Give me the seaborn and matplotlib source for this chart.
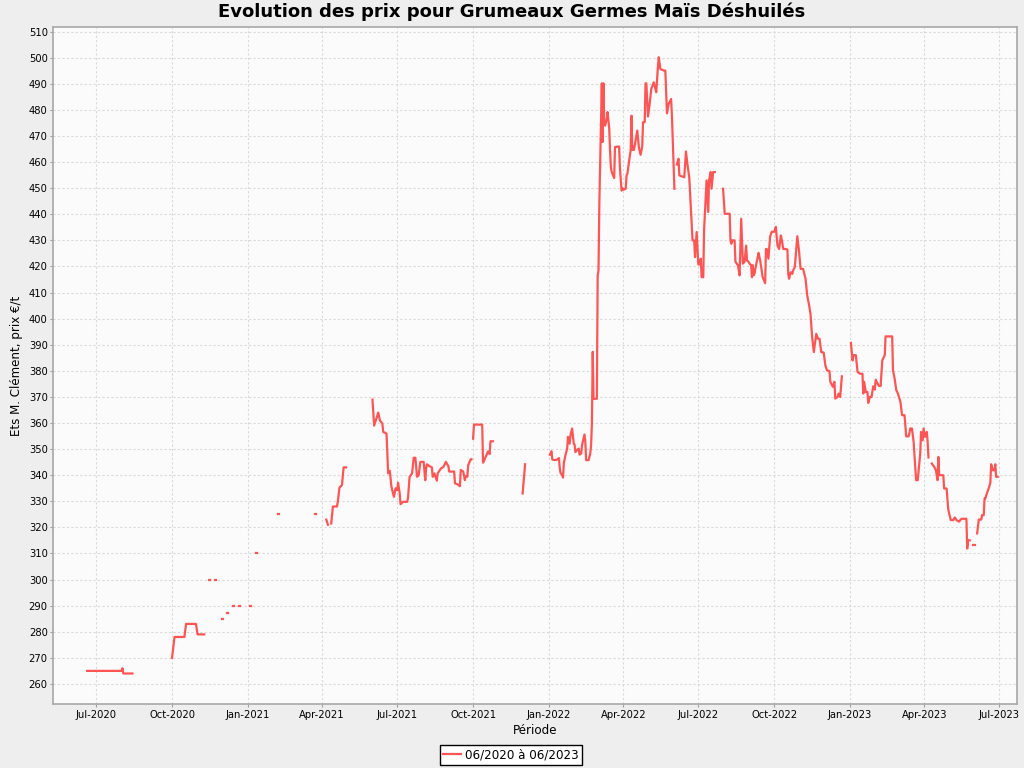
import pandas as pd
import seaborn as sns
import matplotlib.pyplot as plt
import matplotlib.dates as mdates
from matplotlib.lines import Line2D

# prix relevés ; None = rupture de cotation (trou dans la courbe)
dates = [
    '2020-06-20', '2020-08-01', '2020-08-02', '2020-08-03', '2020-08-14', None,
    '2020-10-01', '2020-10-04', '2020-10-16', '2020-10-18', '2020-10-30', '2020-11-01', '2020-11-09', None,
    '2020-11-15', '2020-11-16', None, '2020-11-22', '2020-11-23', None,
    '2020-12-01', '2020-12-02', None, '2020-12-07', '2020-12-08', None,
    '2020-12-14', '2020-12-15', None, '2020-12-21', '2020-12-22', None,
    '2021-01-04', '2021-01-05', None, '2021-01-11', '2021-01-12', None,
    '2021-02-06', '2021-02-08', None, '2021-03-23', '2021-03-24', None,
    '2021-04-06', '2021-04-08', None,
    '2021-04-12', '2021-04-14', '2021-04-19', '2021-04-20', '2021-04-22', '2021-04-25', '2021-04-27', '2021-04-30', None,
    '2021-06-01', '2021-06-03', '2021-06-08', '2021-06-10', '2021-06-13', '2021-06-14', '2021-06-18', '2021-06-20',
    '2021-06-22', '2021-06-24', '2021-06-27', '2021-06-29', '2021-07-01', '2021-07-02', '2021-07-04', '2021-07-05',
    '2021-07-08', '2021-07-13', '2021-07-14', '2021-07-16', '2021-07-19', '2021-07-21', '2021-07-23', '2021-07-25',
    '2021-07-27', '2021-07-29', '2021-08-02', '2021-08-04', '2021-08-05', '2021-08-06', '2021-08-09', '2021-08-12',
    '2021-08-13', '2021-08-15', '2021-08-18', '2021-08-19', '2021-08-23', '2021-08-26', '2021-08-29', '2021-09-01',
    '2021-09-02', '2021-09-08', '2021-09-09', '2021-09-12', '2021-09-15', '2021-09-16', '2021-09-19', '2021-09-21',
    '2021-09-22', '2021-09-24', '2021-09-25', '2021-09-28', '2021-09-29', None,
    '2021-10-01', '2021-10-02', '2021-10-12', '2021-10-13', '2021-10-15', '2021-10-19', '2021-10-21', '2021-10-22',
    '2021-10-25', None,
    '2021-11-30', '2021-12-03', None,
    '2022-01-02', '2022-01-04', '2022-01-05', '2022-01-08', '2022-01-11', '2022-01-13', '2022-01-14', '2022-01-15',
    '2022-01-17', '2022-01-18', '2022-01-19', '2022-01-21', '2022-01-23', '2022-01-24', '2022-01-26', '2022-01-27',
    '2022-01-29', '2022-01-31', '2022-02-01', '2022-02-02', '2022-02-04', '2022-02-06', '2022-02-07', '2022-02-09',
    '2022-02-10', '2022-02-13', '2022-02-14', '2022-02-15', '2022-02-18', '2022-02-20', '2022-02-21', '2022-02-22',
    '2022-02-23', '2022-02-24', '2022-02-28', '2022-03-01', '2022-03-02', '2022-03-03', '2022-03-06', '2022-03-07',
    '2022-03-08', '2022-03-09', '2022-03-10', '2022-03-12', '2022-03-13', '2022-03-15', '2022-03-16', '2022-03-17',
    '2022-03-18', '2022-03-21', '2022-03-22', '2022-03-27', '2022-03-28', '2022-03-30', '2022-03-31', '2022-04-01',
    '2022-04-04', '2022-04-05', '2022-04-06', '2022-04-09', '2022-04-10', '2022-04-11', '2022-04-12', '2022-04-14',
    '2022-04-18', '2022-04-20', '2022-04-22', '2022-04-24', '2022-04-25', '2022-04-27', '2022-04-28', '2022-04-29',
    '2022-05-01', '2022-05-03', '2022-05-05', '2022-05-08', '2022-05-10', '2022-05-11', '2022-05-13', '2022-05-14',
    '2022-05-16', '2022-05-20', '2022-05-22', '2022-05-24', '2022-05-26', '2022-05-29', '2022-05-30', '2022-06-02', None,
    '2022-06-05', '2022-06-07', '2022-06-08', '2022-06-14', '2022-06-16', '2022-06-18', '2022-06-20', '2022-06-24',
    '2022-06-26', '2022-06-27', '2022-06-29', '2022-07-01', '2022-07-03', '2022-07-04', '2022-07-05', '2022-07-07',
    '2022-07-08', '2022-07-11', '2022-07-13', '2022-07-14', '2022-07-16', '2022-07-17', '2022-07-19', '2022-07-21', None,
    '2022-07-31', '2022-08-02', '2022-08-08', '2022-08-09', '2022-08-10', '2022-08-11', '2022-08-14', '2022-08-15',
    '2022-08-18', '2022-08-20', '2022-08-22', '2022-08-24', '2022-08-26', '2022-08-28', '2022-08-29', '2022-08-31',
    '2022-09-01', '2022-09-03', '2022-09-04', '2022-09-05', '2022-09-06', '2022-09-07', '2022-09-09', '2022-09-11',
    '2022-09-12', '2022-09-14', '2022-09-17', '2022-09-20', '2022-09-21', '2022-09-22', '2022-09-24', '2022-09-26',
    '2022-09-28', '2022-10-01', '2022-10-03', '2022-10-04', '2022-10-05', '2022-10-07', '2022-10-09', '2022-10-10',
    '2022-10-12', '2022-10-15', '2022-10-17', '2022-10-18', '2022-10-19', '2022-10-21', '2022-10-23', '2022-10-24',
    '2022-10-26', '2022-10-29', '2022-10-31', '2022-11-02', '2022-11-05', '2022-11-08', '2022-11-10', '2022-11-12',
    '2022-11-14', '2022-11-16', '2022-11-18', '2022-11-21', '2022-11-23', '2022-11-25', '2022-11-27', '2022-11-30',
    '2022-12-02', '2022-12-04', '2022-12-07', '2022-12-08', '2022-12-11', '2022-12-13', '2022-12-14', '2022-12-17',
    '2022-12-18', '2022-12-20', '2022-12-22', None,
    '2023-01-02', '2023-01-04', '2023-01-05', '2023-01-08', '2023-01-10', '2023-01-13', '2023-01-16', '2023-01-17',
    '2023-01-18', '2023-01-20', '2023-01-22', '2023-01-23', '2023-01-25', '2023-01-27', '2023-01-29', '2023-01-31',
    '2023-02-01', '2023-02-03', '2023-02-05', '2023-02-07', '2023-02-09', '2023-02-12', '2023-02-13', '2023-02-21',
    '2023-02-22', '2023-02-24', '2023-02-26', '2023-02-28', '2023-03-03', '2023-03-05', '2023-03-08', '2023-03-10',
    '2023-03-13', '2023-03-15', '2023-03-17', '2023-03-19', '2023-03-22', '2023-03-24', '2023-03-27', '2023-03-28',
    '2023-03-30', '2023-03-31', '2023-04-02', '2023-04-04', '2023-04-05', '2023-04-06', None,
    '2023-04-10', '2023-04-13', '2023-04-15', '2023-04-17', '2023-04-18', '2023-04-19', '2023-04-24', '2023-04-25',
    '2023-04-28', '2023-04-30', '2023-05-03', '2023-05-06', '2023-05-08', '2023-05-10', '2023-05-13', '2023-05-16',
    '2023-05-22', '2023-05-23', '2023-05-24', '2023-05-26', None,
    '2023-05-30', '2023-06-01', None,
    '2023-06-04', '2023-06-06', '2023-06-09', '2023-06-10', '2023-06-12', '2023-06-13', '2023-06-14', '2023-06-16',
    '2023-06-18', '2023-06-20', '2023-06-21', '2023-06-23', '2023-06-25', '2023-06-26', '2023-06-27', '2023-06-29',
]

prices = [
    265, 265, 266, 264, 264, None,
    270, 278, 278, 283, 283, 279, 279, None,
    300, 300, None, 300, 300, None,
    285, 285, None, 287, 287, None,
    290, 290, None, 290, 290, None,
    290, 290, None, 310, 310, None,
    325, 325, None, 325, 325, None,
    323, 321, None,
    321.5, 328, 328, 330, 335.3, 336.2, 343, 343, None,
    369, 359, 364, 361, 359.8, 356.6, 356, 340.7,
    341.7, 335.5, 331.7, 335, 334.3, 337.1, 333.1, 328.9,
    329.8, 329.8, 331.1, 339.4, 340.7, 346.7, 346.7, 339.4,
    340, 345.1, 345.1, 338.1, 342.6, 344.2, 343.5, 343,
    339.4, 340.7, 337.9, 340.7, 342.6, 343.2, 345.1, 343.5,
    341.4, 341.4, 336.9, 336.5, 335.8, 342, 341.4, 338.1,
    339.6, 339.4, 343.8, 346.1, 346.1, None,
    354, 359.4, 359.4, 344.8, 346.1, 349.1, 348.1, 353,
    353, None,
    333, 344.2, None,
    347.9, 349.2, 346, 345.8, 346, 346.6, 342.8, 340.9,
    340, 339.1, 344.8, 347.7, 350.2, 354.7, 352.1, 355.3,
    357.9, 352.1, 351.7, 348.9, 349.6, 350.2, 347.9, 348.3,
    351.5, 355.6, 353, 345.8, 345.8, 348.3, 351.5, 359.8,
    387.3, 369.3, 369.3, 416.6, 418.5, 444, 490.2, 467.7,
    490.2, 474.1, 474, 476.6, 479.2, 472.8, 464.5, 458.1,
    456.2, 453.9, 465.8, 466, 457.5, 449.1, 450, 449.4,
    449.8, 454.9, 455.5, 462.5, 464.5, 477.8, 464.7, 464.7,
    472.1, 465.5, 462.8, 466, 475.3, 475.3, 490.2, 490.2,
    477.5, 482.3, 488.1, 490.6, 488.1, 486.8, 496.4, 500.2,
    495.7, 495.1, 495.1, 478.7, 482.3, 484.2, 477.8, 449.8, None,
    459.1, 461.3, 454.9, 454.2, 464.1, 458.7, 454.2, 430,
    430, 423.6, 433.2, 420.8, 420.8, 423, 415.9, 415.9,
    434.1, 453, 440.9, 453, 456.2, 449.8, 456.2, 456.2, None,
    449.8, 440.2, 440.2, 430, 428.7, 430, 430, 421.8,
    420.5, 416.6, 438.3, 421.1, 421.8, 428, 422.3, 421.8,
    421.1, 420.5, 415.9, 420.5, 416.6, 417.2, 420.5, 423.6,
    425.2, 422.3, 415.9, 413.6, 426.7, 426.7, 423, 431.4,
    433.3, 433.3, 435.2, 431.4, 428, 426.7, 431.9, 430.6,
    426.7, 426.7, 426.5, 417.2, 415.3, 417.8, 417.2, 418.5,
    419.8, 431.6, 426.2, 419.1, 419.1, 415.3, 408.9, 405.7,
    401.8, 392.9, 387.2, 394.2, 392.3, 392.3, 387.2, 387,
    382.1, 380.2, 379.9, 375.8, 373.9, 375.8, 369.4, 370,
    371.3, 370, 377.9, None,
    390.7, 384, 386, 386, 379.6, 378.9, 378.9, 371.3,
    375.8, 371.9, 371.9, 367.7, 370, 370, 374.1, 372.8,
    376.6, 375.3, 374.2, 374.2, 384, 386, 393.2, 393.2,
    380.2, 377, 372.6, 371.3, 368.1, 363, 363, 354.9,
    354.9, 357.9, 357.9, 352.8, 338.1, 338.1, 348.3, 356.6,
    353.4, 357.9, 354.7, 356.6, 352.8, 346.8, None,
    344.5, 343.2, 341.9, 338.1, 347, 340, 340, 334.9,
    334.9, 326.8, 322.8, 322.8, 323.8, 322.8, 322.2, 323.3,
    323.3, 311.9, 315.1, 315, None,
    313.2, 313.2, None,
    317.7, 323, 323, 324.7, 324.7, 331.1, 331.1, 333.2,
    334.9, 337.1, 344.2, 341.9, 341.9, 344.2, 339.4, 339.4,
]

y_ticks = list(range(260, 511, 10))
line_color = '#FF5555'

df = pd.DataFrame({'date': pd.to_datetime(pd.Series(dates)), 'price': prices})
df['seg'] = df['price'].isna().cumsum()
df = df.dropna()

fig = plt.figure(figsize=(10.24, 7.68), dpi=100, facecolor='#EEEEEE')
ax = fig.add_axes([0.052, 0.0833, 0.9409, 0.8819])
ax.set_facecolor('#FBFBFB')

sns.lineplot(data=df, x='date', y='price', units='seg', estimator=None, sort=False,
             color=line_color, linewidth=1.6, ax=ax)

ax.set_xlim(pd.Timestamp('2020-05-10'), pd.Timestamp('2023-07-22'))
ax.set_ylim(252.3, 511.9)
ax.set_yticks(y_ticks)
ax.xaxis.set_major_locator(mdates.MonthLocator(bymonth=[1, 4, 7, 10]))
ax.xaxis.set_major_formatter(mdates.DateFormatter('%b-%Y'))

ax.grid(True, color='#D9D9D9', linestyle=(0, (2, 2)), linewidth=0.8)
ax.set_axisbelow(True)
for s in ax.spines.values():
    s.set_color('#A8A8A8')
    s.set_linewidth(1.2)
ax.tick_params(length=2, color='#A0A0A0', labelsize=7.2, pad=2)

ax.set_xlabel('Période', fontsize=8.6, labelpad=3)
ax.set_ylabel('Ets M. Clément, prix €/t', fontsize=8.6, labelpad=4)
fig.suptitle('Evolution des prix pour Grumeaux Germes Maïs Déshuilés',
             fontsize=13, fontweight='bold', y=1 - 12 / 768, va='center')

handle = Line2D([], [], color=line_color, linewidth=1.6)
leg = fig.legend(handles=[handle], labels=['06/2020 à 06/2023'], loc='center',
                 bbox_to_anchor=(511 / 1024, 1 - 755 / 768), frameon=True, fancybox=False,
                 edgecolor='black', facecolor='white', framealpha=1, fontsize=8.6,
                 handlelength=1.5, handletextpad=0.3, borderpad=0.3, borderaxespad=0)
leg.get_frame().set_linewidth(1.0)

fig.savefig('out.png', dpi=100, facecolor=fig.get_facecolor())
